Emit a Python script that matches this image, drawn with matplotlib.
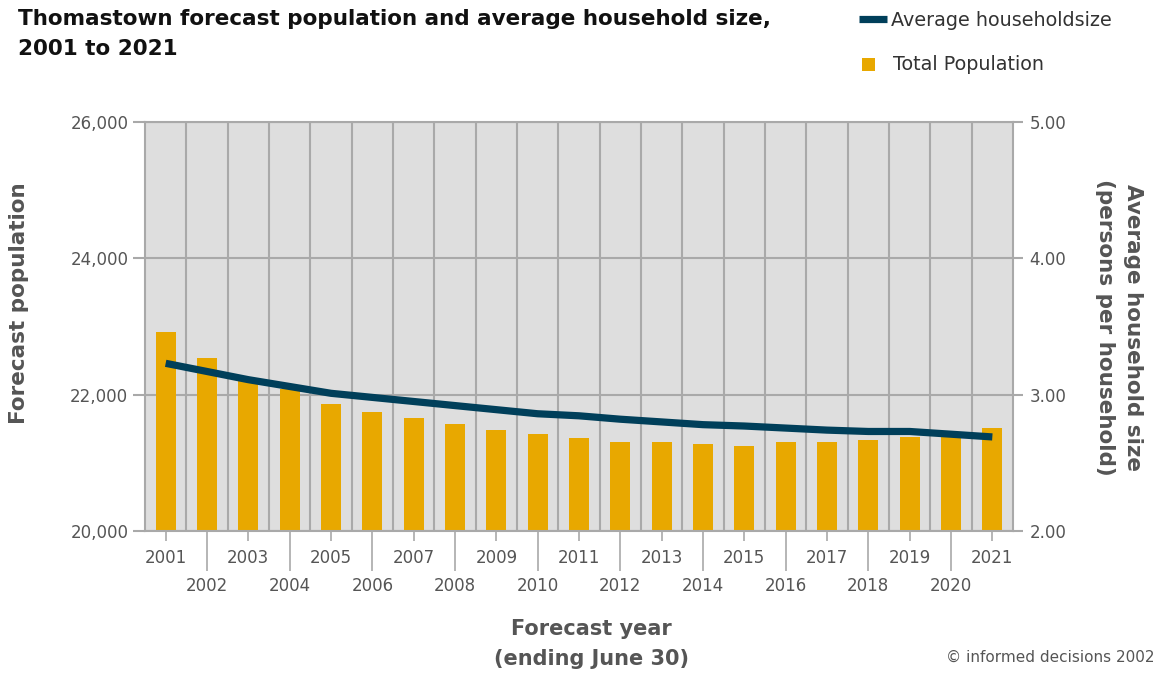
import matplotlib
matplotlib.use("Agg")
import matplotlib.pyplot as plt
from matplotlib.lines import Line2D
from matplotlib.patches import Rectangle

years = list(range(2001, 2022))
population = [22913, 22537, 22250, 22085, 21862, 21750, 21663, 21575, 21487, 21428,
              21370, 21311, 21311, 21281, 21252, 21311, 21311, 21340, 21380, 21400, 21516]
household_size = [3.23, 3.17, 3.11, 3.06, 3.01, 2.98, 2.95, 2.92, 2.89, 2.86,
                  2.845, 2.82, 2.80, 2.78, 2.77, 2.755, 2.74, 2.73, 2.73, 2.71, 2.69]
left_ticks = [20000, 22000, 24000, 26000]
right_ticks = [2.0, 3.0, 4.0, 5.0]

BAR = "#E8A800"
LINE = "#003F5A"
BG = "#DEDEDE"
GRID = "#A9A9A9"
TXT = "#555555"

plt.rcParams['font.family'] = ['DejaVu Sans']

W, H = 1161, 674
fig = plt.figure(figsize=(11.61, 6.74), dpi=100)
ax = fig.add_axes([145/W, 1-531/H, (1013-145)/W, (531-122)/H])
ax.set_facecolor(BG)
x = list(range(len(years)))
ax.bar(x, population, width=0.48, color=BAR, zorder=2)
ax.set_xlim(-0.5, len(years)-0.5)
ax.set_ylim(20000, 26000)
ax.set_yticks(left_ticks)
ax.set_yticklabels([f"{v:,}" for v in left_ticks])
ax.tick_params(axis='y', length=9, width=1.5, color=GRID, labelcolor=TXT, labelsize=12, pad=3)
ax.set_axisbelow(True)
ax.yaxis.grid(True, color=GRID, linewidth=1.5, zorder=0)
for b in [i + 0.5 for i in range(len(years)-1)]:
    ax.axvline(b, color=GRID, linewidth=1.5, zorder=0)
for s in ax.spines.values():
    s.set_color(GRID)
    s.set_linewidth(1.5)

odd = [i for i, y in enumerate(years) if y % 2 == 1]
even = [i for i, y in enumerate(years) if y % 2 == 0]
ax.set_xticks(odd)
ax.set_xticklabels([str(years[i]) for i in odd])
ax.set_xticks(even, minor=True)
ax.set_xticklabels([str(years[i]) for i in even], minor=True)
ax.tick_params(axis='x', which='major', length=7, width=1.2, color=GRID, labelcolor=TXT, labelsize=12, pad=6)
ax.tick_params(axis='x', which='minor', length=29, width=1.2, color=GRID, labelcolor=TXT, labelsize=12, pad=4)

ax.set_ylabel("Forecast population", fontsize=15.5, fontweight='bold', color=TXT)
ax.yaxis.set_label_coords(-116/868, (531-303)/409)
ax.set_xlabel("Forecast year\n(ending June 30)", fontsize=15, fontweight='bold', color=TXT,
              linespacing=1.65)
ax.xaxis.set_label_coords((591-145)/868, -(644-531)/409)
ax.xaxis.label.set_va('center')

ax2 = ax.twinx()
ax2.plot(x, household_size, color=LINE, linewidth=5.2, solid_capstyle='butt', zorder=3)
ax2.set_ylim(2, 5)
ax2.set_yticks(right_ticks)
ax2.set_yticklabels([f"{v:.2f}" for v in right_ticks])
ax2.tick_params(axis='y', length=7, width=1.5, color=GRID, labelcolor=TXT, labelsize=12, pad=5)
for s in ax2.spines.values():
    s.set_visible(False)
ax2.set_ylabel("Average household size\n(persons per household)", rotation=-90, fontsize=15.5,
               fontweight='bold', color=TXT, linespacing=1.55, va='center', ha='center')
ax2.yaxis.set_label_coords((1119-145)/868, (531-327)/409)

fig.text(18/W, 1-9/H, "Thomastown forecast population and average household size,\n2001 to 2021",
         ha='left', va='top', fontsize=15.5, fontweight='bold', color='#111111', linespacing=1.6)

# legend drawn in figure pixels
fig.add_artist(Line2D([859/W, 887/W], [1-19/H, 1-19/H], color=LINE, linewidth=5.2,
                      solid_capstyle='butt', transform=fig.transFigure))
fig.text(891/W, 1-20/H, "Average householdsize", ha='left', va='center', fontsize=13.8, color='#333333')
fig.add_artist(Rectangle((862/W, 1-71/H), 13/W, 13/H, facecolor=BAR, edgecolor='none',
                         transform=fig.transFigure))
fig.text(893/W, 1-64/H, "Total Population", ha='left', va='center', fontsize=13.8, color='#333333')

fig.text(1155/W, 1-657/H, "© informed decisions 2002", ha='right', va='center',
         fontsize=11, color=TXT)

fig.savefig("out.png", dpi=100)
